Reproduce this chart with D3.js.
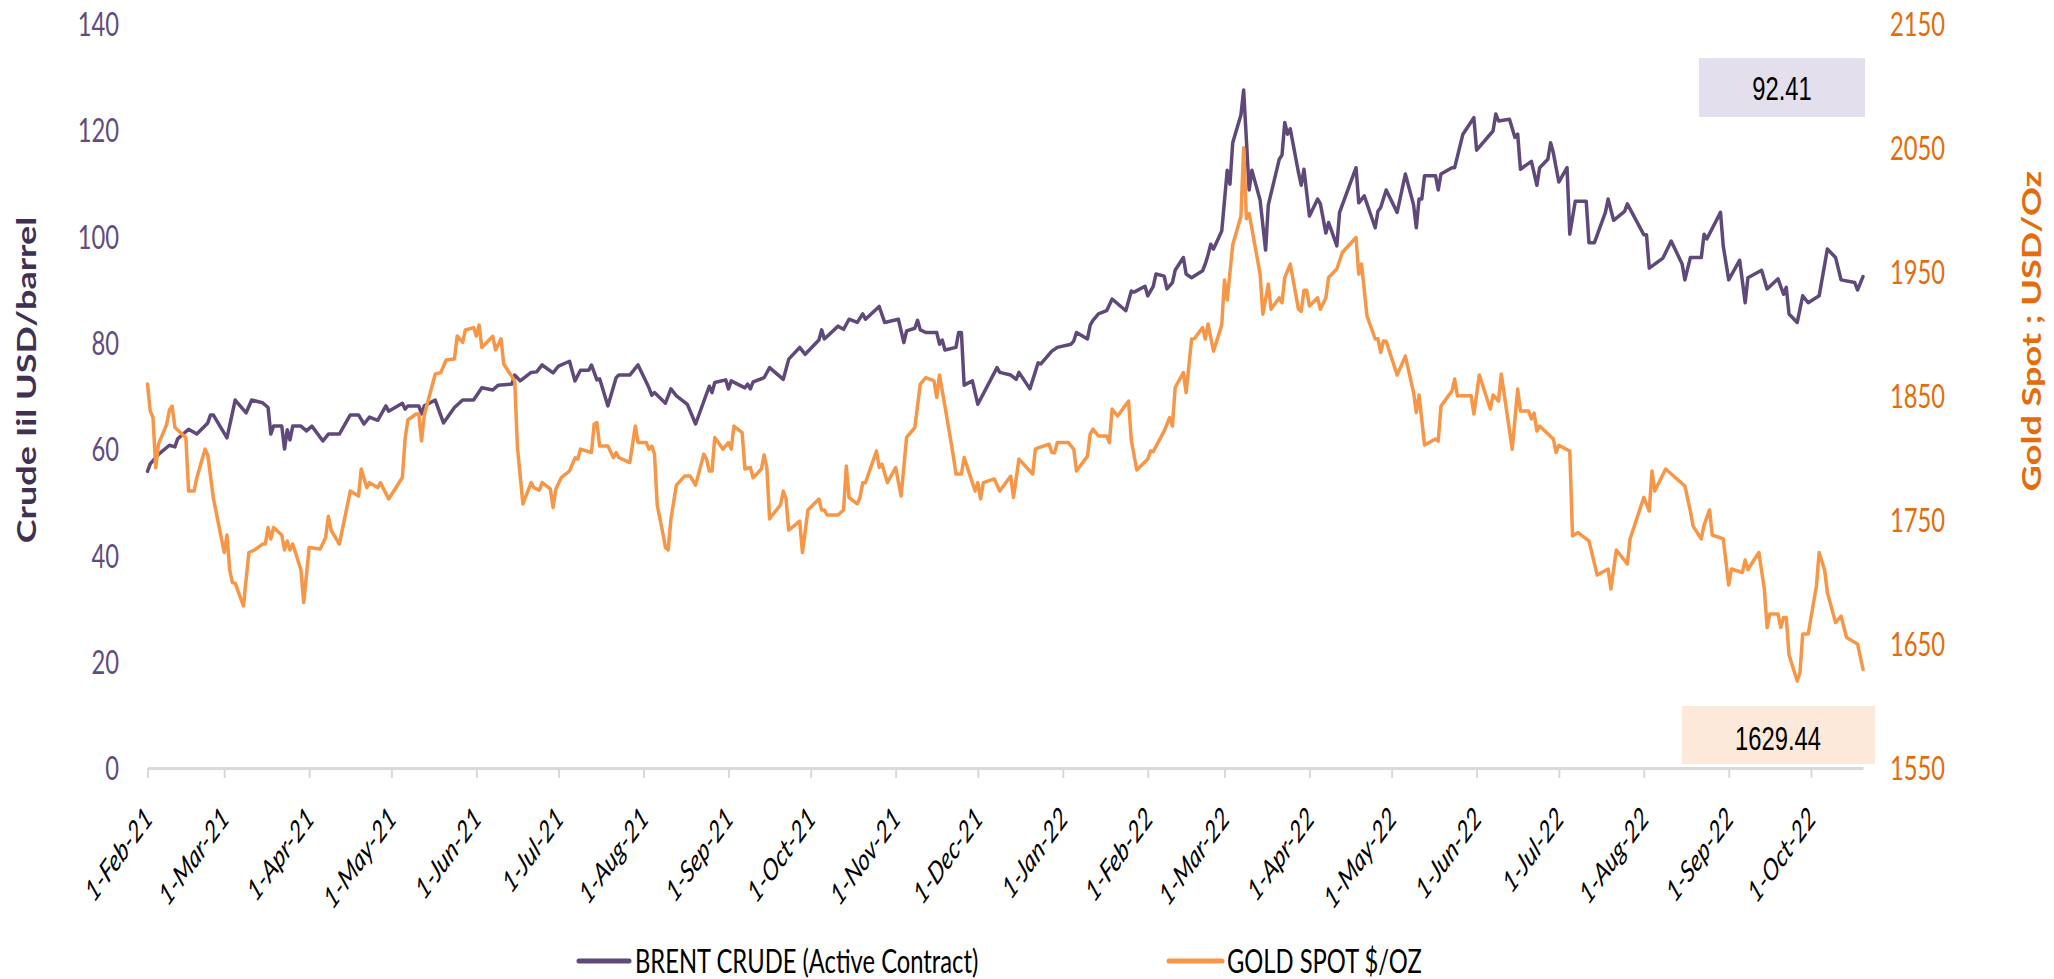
<!DOCTYPE html>
<html>
<head>
<meta charset="utf-8">
<script src="https://cdn.jsdelivr.net/npm/d3@7"></script>
<style>
  body { margin: 0; background: #ffffff; }
  svg { display: block; }
</style>
</head>
<body>
<svg id="chart" width="2054" height="979"></svg>
<script>
// ---- Data -----------------------------------------------------------------
// Brent crude, active contract (USD/barrel)
const brent = [
  ["2021-02-01",55.8],["2021-02-02",57.2],["2021-02-05",59.0],["2021-02-09",60.7],["2021-02-11",60.4],
  ["2021-02-12",61.9],["2021-02-16",63.7],["2021-02-19",62.8],["2021-02-23",64.9],["2021-02-24",66.4],
  ["2021-02-25",66.4],["2021-03-02",62.1],["2021-03-05",69.2],["2021-03-09",66.8],["2021-03-11",69.2],
  ["2021-03-15",68.7],["2021-03-17",67.8],["2021-03-18",62.8],["2021-03-19",64.3],["2021-03-22",64.3],
  ["2021-03-23",60.0],["2021-03-24",63.6],["2021-03-25",61.7],["2021-03-26",64.3],["2021-03-29",64.3],
  ["2021-03-31",63.4],["2021-04-02",64.3],["2021-04-06",61.5],["2021-04-08",62.8],["2021-04-12",62.8],
  ["2021-04-16",66.4],["2021-04-19",66.4],["2021-04-21",64.7],["2021-04-23",66.0],["2021-04-26",65.4],
  ["2021-04-29",68.1],["2021-04-30",67.1],["2021-05-05",68.6],["2021-05-06",67.5],["2021-05-07",68.1],
  ["2021-05-11",68.1],["2021-05-12",66.6],["2021-05-13",68.1],["2021-05-17",69.2],["2021-05-20",64.9],
  ["2021-05-24",67.8],["2021-05-27",69.2],["2021-05-31",69.2],["2021-06-03",71.5],["2021-06-07",71.1],
  ["2021-06-09",72.0],["2021-06-14",72.2],["2021-06-15",73.9],["2021-06-17",72.8],["2021-06-21",74.4],
  ["2021-06-23",74.5],["2021-06-25",75.8],["2021-06-29",74.3],["2021-07-01",75.6],["2021-07-05",76.5],
  ["2021-07-07",72.8],["2021-07-09",74.8],["2021-07-12",74.8],["2021-07-13",75.8],["2021-07-15",73.0],
  ["2021-07-16",73.2],["2021-07-19",68.1],["2021-07-22",73.4],["2021-07-23",73.9],["2021-07-27",73.9],
  ["2021-07-30",75.8],["2021-08-03",71.5],["2021-08-04",70.1],["2021-08-05",70.6],["2021-08-09",68.6],
  ["2021-08-11",71.3],["2021-08-13",70.0],["2021-08-17",68.4],["2021-08-20",64.7],["2021-08-25",71.8],
  ["2021-08-26",70.6],["2021-08-27",72.5],["2021-08-31",73.0],["2021-09-01",71.3],["2021-09-02",72.8],
  ["2021-09-07",71.5],["2021-09-08",72.2],["2021-09-09",71.3],["2021-09-10",72.6],["2021-09-14",73.4],
  ["2021-09-16",75.3],["2021-09-21",73.1],["2021-09-23",76.9],["2021-09-27",79.1],["2021-09-29",77.8],
  ["2021-10-04",80.5],["2021-10-05",82.4],["2021-10-06",80.7],["2021-10-11",83.1],["2021-10-13",82.5],
  ["2021-10-15",84.4],["2021-10-18",83.8],["2021-10-20",85.4],["2021-10-21",84.4],["2021-10-26",86.8],
  ["2021-10-28",83.8],["2021-11-02",84.4],["2021-11-04",80.0],["2021-11-05",82.2],["2021-11-08",82.7],
  ["2021-11-09",84.2],["2021-11-10",82.4],["2021-11-12",81.9],["2021-11-16",81.9],["2021-11-17",79.7],
  ["2021-11-18",80.5],["2021-11-19",78.6],["2021-11-23",79.1],["2021-11-24",81.9],["2021-11-25",81.9],
  ["2021-11-26",72.0],["2021-11-29",72.8],["2021-12-01",68.4],["2021-12-02",69.4],["2021-12-08",75.3],
  ["2021-12-09",74.4],["2021-12-13",73.9],["2021-12-15",73.1],["2021-12-16",74.4],["2021-12-20",71.3],
  ["2021-12-23",76.2],["2021-12-24",76.0],["2021-12-28",78.4],["2021-12-30",79.1],["2022-01-04",79.7],
  ["2022-01-05",80.3],["2022-01-06",81.9],["2022-01-10",80.7],["2022-01-11",83.3],["2022-01-12",84.2],
  ["2022-01-14",85.4],["2022-01-17",86.0],["2022-01-19",88.2],["2022-01-24",86.0],["2022-01-26",89.7],
  ["2022-01-27",89.5],["2022-01-31",90.6],["2022-02-01",88.8],["2022-02-03",90.6],["2022-02-04",92.9],
  ["2022-02-07",92.5],["2022-02-08",90.1],["2022-02-10",91.3],["2022-02-11",93.6],["2022-02-14",96.0],
  ["2022-02-15",92.9],["2022-02-17",92.2],["2022-02-21",93.5],["2022-02-22",94.8],["2022-02-23",96.5],
  ["2022-02-24",98.5],["2022-02-25",97.6],["2022-02-28",101.0],["2022-03-02",112.4],["2022-03-03",109.8],
  ["2022-03-04",117.6],["2022-03-07",122.8],["2022-03-08",127.5],["2022-03-10",108.7],["2022-03-11",112.4],
  ["2022-03-14",106.8],["2022-03-16",97.4],["2022-03-17",105.9],["2022-03-21",114.5],["2022-03-22",115.3],
  ["2022-03-23",121.4],["2022-03-24",119.2],["2022-03-25",120.2],["2022-03-28",112.0],["2022-03-29",109.6],
  ["2022-03-30",112.6],["2022-04-01",103.8],["2022-04-04",107.0],["2022-04-05",106.1],["2022-04-07",100.6],
  ["2022-04-08",102.6],["2022-04-11",98.2],["2022-04-12",104.5],["2022-04-18",112.9],["2022-04-19",106.3],
  ["2022-04-21",107.6],["2022-04-25",101.6],["2022-04-26",104.7],["2022-04-27",105.4],["2022-04-29",108.7],
  ["2022-05-03",104.5],["2022-05-06",111.7],["2022-05-09",105.9],["2022-05-10",101.6],["2022-05-11",107.0],
  ["2022-05-12",107.0],["2022-05-13",111.4],["2022-05-17",111.4],["2022-05-18",108.7],["2022-05-19",111.7],
  ["2022-05-23",112.9],["2022-05-24",112.9],["2022-05-27",119.2],["2022-05-31",122.3],["2022-06-01",116.2],
  ["2022-06-07",119.8],["2022-06-08",123.0],["2022-06-09",121.7],["2022-06-13",122.0],["2022-06-15",118.6],
  ["2022-06-16",119.2],["2022-06-17",112.6],["2022-06-21",114.1],["2022-06-23",109.6],["2022-06-24",112.9],
  ["2022-06-27",114.5],["2022-06-28",117.6],["2022-06-29",115.7],["2022-07-01",110.2],["2022-07-04",112.9],
  ["2022-07-05",100.4],["2022-07-07",106.6],["2022-07-11",106.6],["2022-07-12",98.8],["2022-07-14",98.8],
  ["2022-07-18",104.5],["2022-07-19",107.0],["2022-07-21",103.0],["2022-07-25",104.7],["2022-07-26",106.1],
  ["2022-08-01",100.3],["2022-08-02",100.3],["2022-08-03",94.0],["2022-08-08",95.9],["2022-08-11",99.1],
  ["2022-08-15",94.8],["2022-08-16",91.8],["2022-08-18",96.0],["2022-08-22",96.0],["2022-08-23",100.4],
  ["2022-08-24",99.5],["2022-08-29",104.5],["2022-08-30",98.2],["2022-09-01",91.8],["2022-09-05",95.5],
  ["2022-09-07",87.5],["2022-09-08",92.2],["2022-09-13",93.6],["2022-09-15",90.1],["2022-09-19",92.0],
  ["2022-09-21",89.1],["2022-09-22",90.4],["2022-09-23",85.4],["2022-09-26",83.8],["2022-09-28",88.8],
  ["2022-09-30",87.5],["2022-10-04",88.8],["2022-10-07",97.6],["2022-10-10",96.0],["2022-10-12",91.8],
  ["2022-10-17",91.3],["2022-10-18",89.9],["2022-10-20",92.41]
];

// Gold spot (USD/oz)
const gold = [
  ["2021-02-01",1859.5],["2021-02-02",1837.7],["2021-02-03",1832.5],["2021-02-04",1792.0],["2021-02-05",1811.0],
  ["2021-02-08",1827.0],["2021-02-09",1838.5],["2021-02-10",1841.7],["2021-02-11",1824.4],["2021-02-15",1816.3],
  ["2021-02-16",1773.2],["2021-02-18",1773.2],["2021-02-19",1784.0],["2021-02-22",1807.0],["2021-02-23",1802.3],
  ["2021-02-25",1768.0],["2021-03-01",1723.7],["2021-03-02",1737.8],["2021-03-03",1709.6],["2021-03-04",1699.5],
  ["2021-03-05",1699.0],["2021-03-08",1680.6],["2021-03-10",1723.7],["2021-03-12",1725.7],["2021-03-15",1730.5],
  ["2021-03-16",1730.5],["2021-03-17",1743.8],["2021-03-18",1734.6],["2021-03-19",1743.8],["2021-03-22",1737.8],
  ["2021-03-23",1725.7],["2021-03-24",1733.0],["2021-03-25",1725.7],["2021-03-26",1730.5],["2021-03-29",1709.6],
  ["2021-03-30",1683.4],["2021-03-31",1705.5],["2021-04-01",1727.7],["2021-04-05",1726.5],["2021-04-07",1735.8],
  ["2021-04-08",1753.0],["2021-04-09",1741.8],["2021-04-12",1730.5],["2021-04-16",1773.2],["2021-04-19",1769.2],
  ["2021-04-20",1791.0],["2021-04-22",1776.0],["2021-04-23",1780.0],["2021-04-26",1776.0],["2021-04-27",1780.0],
  ["2021-04-30",1766.8],["2021-05-05",1784.1],["2021-05-06",1815.2],["2021-05-07",1830.5],["2021-05-10",1835.3],
  ["2021-05-11",1835.3],["2021-05-12",1813.5],["2021-05-13",1834.5],["2021-05-17",1867.6],["2021-05-19",1868.7],
  ["2021-05-21",1878.8],["2021-05-24",1879.6],["2021-05-25",1898.2],["2021-05-27",1893.0],["2021-05-28",1903.0],
  ["2021-05-31",1905.0],["2021-06-01",1898.2],["2021-06-02",1907.0],["2021-06-03",1889.0],["2021-06-07",1898.0],
  ["2021-06-08",1887.0],["2021-06-10",1896.0],["2021-06-11",1875.6],["2021-06-15",1861.9],["2021-06-16",1808.3],
  ["2021-06-18",1762.8],["2021-06-21",1780.0],["2021-06-22",1776.0],["2021-06-24",1774.0],["2021-06-25",1780.0],
  ["2021-06-28",1774.9],["2021-06-29",1760.0],["2021-06-30",1774.9],["2021-07-02",1784.0],["2021-07-05",1789.4],
  ["2021-07-07",1800.0],["2021-07-08",1799.0],["2021-07-09",1807.0],["2021-07-13",1804.3],["2021-07-14",1827.2],
  ["2021-07-15",1828.4],["2021-07-16",1809.5],["2021-07-19",1809.5],["2021-07-21",1800.2],["2021-07-22",1804.3],
  ["2021-07-23",1800.2],["2021-07-27",1796.2],["2021-07-29",1825.6],["2021-07-30",1812.3],["2021-08-02",1812.3],
  ["2021-08-03",1807.0],["2021-08-04",1809.5],["2021-08-05",1803.0],["2021-08-06",1762.0],["2021-08-08",1739.8],
  ["2021-08-09",1727.7],["2021-08-10",1725.7],["2021-08-11",1750.7],["2021-08-13",1778.0],["2021-08-16",1785.3],
  ["2021-08-18",1785.3],["2021-08-20",1778.0],["2021-08-23",1803.0],["2021-08-24",1799.0],["2021-08-25",1789.4],
  ["2021-08-26",1789.4],["2021-08-27",1816.4],["2021-08-30",1807.0],["2021-09-01",1812.3],["2021-09-02",1807.0],
  ["2021-09-03",1825.6],["2021-09-06",1820.4],["2021-09-07",1791.0],["2021-09-09",1792.2],["2021-09-10",1784.0],
  ["2021-09-13",1791.0],["2021-09-14",1802.3],["2021-09-15",1792.2],["2021-09-16",1750.7],["2021-09-17",1753.9],
  ["2021-09-20",1762.0],["2021-09-21",1773.2],["2021-09-22",1766.8],["2021-09-23",1741.8],["2021-09-27",1749.0],
  ["2021-09-28",1723.7],["2021-09-30",1758.0],["2021-10-04",1766.8],["2021-10-05",1758.0],["2021-10-06",1758.0],
  ["2021-10-07",1753.9],["2021-10-11",1753.9],["2021-10-13",1758.0],["2021-10-14",1793.4],["2021-10-15",1768.0],
  ["2021-10-18",1762.8],["2021-10-19",1768.0],["2021-10-20",1780.0],["2021-10-21",1780.0],["2021-10-25",1805.5],
  ["2021-10-26",1792.2],["2021-10-27",1795.0],["2021-10-29",1780.0],["2021-11-01",1792.2],["2021-11-03",1769.2],
  ["2021-11-05",1816.4],["2021-11-08",1824.4],["2021-11-10",1859.5],["2021-11-12",1864.7],["2021-11-15",1862.0],
  ["2021-11-16",1848.6],["2021-11-17",1866.7],["2021-11-19",1841.7],["2021-11-22",1802.3],["2021-11-23",1787.0],
  ["2021-11-25",1787.0],["2021-11-26",1800.2],["2021-11-29",1780.0],["2021-11-30",1773.2],["2021-12-01",1780.0],
  ["2021-12-02",1766.8],["2021-12-03",1780.0],["2021-12-07",1783.0],["2021-12-09",1773.2],["2021-12-13",1785.3],
  ["2021-12-14",1768.0],["2021-12-16",1799.0],["2021-12-21",1787.0],["2021-12-22",1807.0],["2021-12-23",1808.0],
  ["2021-12-27",1811.0],["2021-12-28",1804.3],["2021-12-29",1804.0],["2021-12-30",1812.3],["2022-01-03",1812.3],
  ["2022-01-05",1807.0],["2022-01-06",1789.4],["2022-01-10",1801.4],["2022-01-11",1819.2],["2022-01-12",1823.2],
  ["2022-01-14",1817.6],["2022-01-17",1817.6],["2022-01-18",1812.3],["2022-01-19",1839.3],["2022-01-21",1833.7],
  ["2022-01-25",1845.8],["2022-01-26",1814.3],["2022-01-28",1790.2],["2022-02-01",1799.0],["2022-02-02",1805.5],
  ["2022-02-03",1805.0],["2022-02-07",1821.6],["2022-02-09",1832.5],["2022-02-10",1825.6],["2022-02-11",1856.7],
  ["2022-02-14",1868.8],["2022-02-15",1852.6],["2022-02-17",1895.8],["2022-02-18",1896.0],["2022-02-21",1905.0],
  ["2022-02-22",1895.8],["2022-02-23",1907.8],["2022-02-25",1886.0],["2022-02-28",1907.0],["2022-03-01",1943.3],
  ["2022-03-02",1927.2],["2022-03-04",1971.5],["2022-03-07",1994.6],["2022-03-08",2050.0],["2022-03-09",1992.8],
  ["2022-03-10",1996.9],["2022-03-14",1948.1],["2022-03-15",1915.8],["2022-03-17",1940.0],["2022-03-18",1919.7],
  ["2022-03-21",1929.0],["2022-03-22",1925.0],["2022-03-23",1945.3],["2022-03-25",1956.2],["2022-03-28",1919.7],
  ["2022-03-29",1918.0],["2022-03-30",1935.0],["2022-03-31",1935.0],["2022-04-01",1922.4],["2022-04-04",1929.0],
  ["2022-04-05",1919.7],["2022-04-07",1929.0],["2022-04-08",1945.3],["2022-04-11",1952.2],["2022-04-13",1965.5],
  ["2022-04-18",1977.6],["2022-04-19",1948.1],["2022-04-20",1956.2],["2022-04-22",1914.3],["2022-04-25",1895.8],
  ["2022-04-26",1896.0],["2022-04-27",1884.9],["2022-04-28",1894.2],["2022-04-29",1894.0],["2022-05-03",1866.7],
  ["2022-05-06",1882.0],["2022-05-09",1852.6],["2022-05-10",1836.5],["2022-05-11",1850.6],["2022-05-13",1810.3],
  ["2022-05-17",1815.2],["2022-05-18",1813.5],["2022-05-19",1841.7],["2022-05-23",1853.8],["2022-05-24",1863.5],
  ["2022-05-25",1849.8],["2022-05-26",1850.0],["2022-05-30",1850.0],["2022-05-31",1835.3],["2022-06-02",1866.7],
  ["2022-06-06",1839.3],["2022-06-07",1850.6],["2022-06-09",1845.8],["2022-06-10",1867.5],["2022-06-14",1807.0],
  ["2022-06-16",1855.4],["2022-06-17",1837.7],["2022-06-20",1837.7],["2022-06-21",1831.3],["2022-06-22",1836.0],
  ["2022-06-23",1821.6],["2022-06-24",1825.6],["2022-06-29",1815.2],["2022-06-30",1804.3],["2022-07-01",1810.0],
  ["2022-07-05",1805.5],["2022-07-06",1737.0],["2022-07-08",1739.8],["2022-07-12",1733.0],["2022-07-15",1705.5],
  ["2022-07-19",1710.4],["2022-07-20",1694.3],["2022-07-22",1725.7],["2022-07-26",1714.4],["2022-07-27",1734.6],
  ["2022-08-01",1768.0],["2022-08-03",1757.1],["2022-08-04",1789.4],["2022-08-05",1773.2],["2022-08-09",1791.0],
  ["2022-08-16",1777.3],["2022-08-18",1757.1],["2022-08-19",1745.0],["2022-08-22",1734.6],["2022-08-23",1745.8],
  ["2022-08-25",1758.0],["2022-08-26",1737.8],["2022-08-30",1734.6],["2022-09-01",1697.5],["2022-09-02",1710.4],
  ["2022-09-06",1707.6],["2022-09-07",1717.6],["2022-09-08",1710.0],["2022-09-12",1723.7],["2022-09-14",1694.3],
  ["2022-09-15",1663.2],["2022-09-16",1674.1],["2022-09-19",1674.1],["2022-09-20",1663.2],["2022-09-21",1671.3],
  ["2022-09-22",1671.3],["2022-09-23",1641.1],["2022-09-26",1620.1],["2022-09-27",1627.0],["2022-09-28",1658.0],
  ["2022-09-30",1658.0],["2022-10-03",1696.7],["2022-10-04",1723.7],["2022-10-06",1709.6],["2022-10-07",1691.4],
  ["2022-10-10",1667.2],["2022-10-12",1672.5],["2022-10-14",1655.2],["2022-10-18",1650.0],["2022-10-20",1629.44]
];

const seriesNames = ["BRENT CRUDE (Active Contract)", "GOLD SPOT $/OZ"];
const axisTitles = ["Crude Iil USD/barrel", "Gold Spot ; USD/Oz"];
const leftTicks = [0, 20, 40, 60, 80, 100, 120, 140];
const rightTicks = [1550, 1650, 1750, 1850, 1950, 2050, 2150];
const dateRange = ["2021-02-01", "2022-10-20"];

// ---- Layout & style ---------------------------------------------------------
const plot = { left: 147.5, right: 1863, top: 23.6, bottom: 768 };
const SX = 0.72;                       // horizontal squeeze applied to lettering
const uiFont = "Lato, 'Open Sans', sans-serif";
const numFont = "'Liberation Sans', Arial, sans-serif";
const purple = "#5f497a", orange = "#f79646";
const purpleText = "#5f4b82", purpleTitle = "#3f3151", orangeText = "#e46c0a";
const axisGrey = "#d9d9d9";

const svg = d3.select("#chart");
const parse = d3.utcParse("%Y-%m-%d");

const x = d3.scaleUtc()
  .domain(dateRange.map(parse))
  .range([plot.left, plot.right]);
const yL = d3.scaleLinear().domain([0, 140]).range([plot.bottom, plot.top]);
const yR = d3.scaleLinear().domain([1550, 2150]).range([plot.bottom, plot.top]);

// ---- Latest-value callouts ---------------------------------------------------
const lastBrent = brent[brent.length - 1][1];
const lastGold = gold[gold.length - 1][1];

svg.append("rect").attr("x", 1699).attr("y", 58).attr("width", 166).attr("height", 59)
  .attr("fill", "#e4dfec");
svg.append("text")
  .attr("transform", `translate(1782,100) scale(${SX},1)`)
  .attr("text-anchor", "middle")
  .style("font-family", numFont).style("font-size", "33px").attr("fill", "#000")
  .text(d3.format(".2f")(lastBrent));

svg.append("rect").attr("x", 1682).attr("y", 706).attr("width", 193).attr("height", 58)
  .attr("fill", "#fde9d9");
svg.append("text")
  .attr("transform", `translate(1778,750) scale(${SX},1)`)
  .attr("text-anchor", "middle")
  .style("font-family", numFont).style("font-size", "33px").attr("fill", "#000")
  .text(d3.format(".2f")(lastGold));

// ---- X axis ------------------------------------------------------------------
const monthTicks = d3.utcMonth.range(parse("2021-02-01"), parse("2022-10-02"));
const gx = svg.append("g")
  .attr("transform", `translate(0,${plot.bottom})`)
  .call(d3.axisBottom(x)
    .tickValues(monthTicks)
    .tickFormat(d3.utcFormat("%-d-%b-%y"))
    .tickSize(10)
    .tickSizeOuter(0));
gx.select(".domain").attr("stroke", axisGrey).attr("stroke-width", 3);
gx.selectAll(".tick line").attr("stroke", axisGrey).attr("stroke-width", 2);
gx.selectAll(".tick text")
  .attr("x", null).attr("y", null).attr("dy", null)
  .attr("text-anchor", "end")
  .attr("transform", `translate(6,52) scale(${SX},1) rotate(-45)`)
  .attr("fill", "#000")
  .style("font-family", uiFont).style("font-style", "italic").style("font-size", "30px");

// ---- Y axes ------------------------------------------------------------------
const gyL = svg.append("g")
  .attr("transform", "translate(119,0)")
  .call(d3.axisLeft(yL).tickValues(leftTicks).tickFormat(d3.format("d")).tickSize(0).tickPadding(0));
gyL.select(".domain").remove();
gyL.selectAll(".tick text")
  .attr("x", 0).attr("dy", "0.36em")
  .attr("transform", `scale(${SX},1)`)
  .attr("fill", purpleText)
  .style("font-family", uiFont).style("font-size", "33px");

const gyR = svg.append("g")
  .attr("transform", "translate(1890,0)")
  .call(d3.axisRight(yR).tickValues(rightTicks).tickFormat(d3.format("d")).tickSize(0).tickPadding(0));
gyR.select(".domain").remove();
gyR.selectAll(".tick text")
  .attr("x", 0).attr("dy", "0.36em")
  .attr("transform", `scale(${SX},1)`)
  .attr("fill", orangeText)
  .style("font-family", uiFont).style("font-size", "33px");

// Axis titles
svg.append("text")
  .attr("transform", `translate(36,380) scale(${SX},1) rotate(-90)`)
  .attr("text-anchor", "middle")
  .attr("fill", purpleTitle)
  .style("font-family", uiFont).style("font-weight", "bold").style("font-size", "36px")
  .text(axisTitles[0]);
svg.append("text")
  .attr("transform", `translate(2041,331) scale(${SX},1) rotate(-90)`)
  .attr("text-anchor", "middle")
  .attr("fill", orangeText)
  .style("font-family", uiFont).style("font-weight", "bold").style("font-size", "36px")
  .text(axisTitles[1]);

// ---- Lines -------------------------------------------------------------------
const lineL = d3.line().x(d => x(parse(d[0]))).y(d => yL(d[1]));
const lineR = d3.line().x(d => x(parse(d[0]))).y(d => yR(d[1]));

svg.append("path").datum(brent)
  .attr("d", lineL)
  .attr("fill", "none").attr("stroke", purple).attr("stroke-width", 3.5)
  .attr("stroke-linejoin", "round").attr("stroke-linecap", "round");
svg.append("path").datum(gold)
  .attr("d", lineR)
  .attr("fill", "none").attr("stroke", orange).attr("stroke-width", 3.5)
  .attr("stroke-linejoin", "round").attr("stroke-linecap", "round");

// ---- Legend ------------------------------------------------------------------
const legendItems = [
  { name: seriesNames[0], color: purple, x0: 579, x1: 629, tx: 635 },
  { name: seriesNames[1], color: orange, x0: 1169, x1: 1222, tx: 1227 }
];
const lg = svg.append("g");
legendItems.forEach(it => {
  lg.append("line")
    .attr("x1", it.x0).attr("x2", it.x1).attr("y1", 961).attr("y2", 961)
    .attr("stroke", it.color).attr("stroke-width", 5).attr("stroke-linecap", "round");
  lg.append("text")
    .attr("transform", `translate(${it.tx},973) scale(${SX},1)`)
    .attr("fill", "#000")
    .style("font-family", uiFont).style("font-size", "33px")
    .text(it.name);
});
</script>
</body>
</html>
